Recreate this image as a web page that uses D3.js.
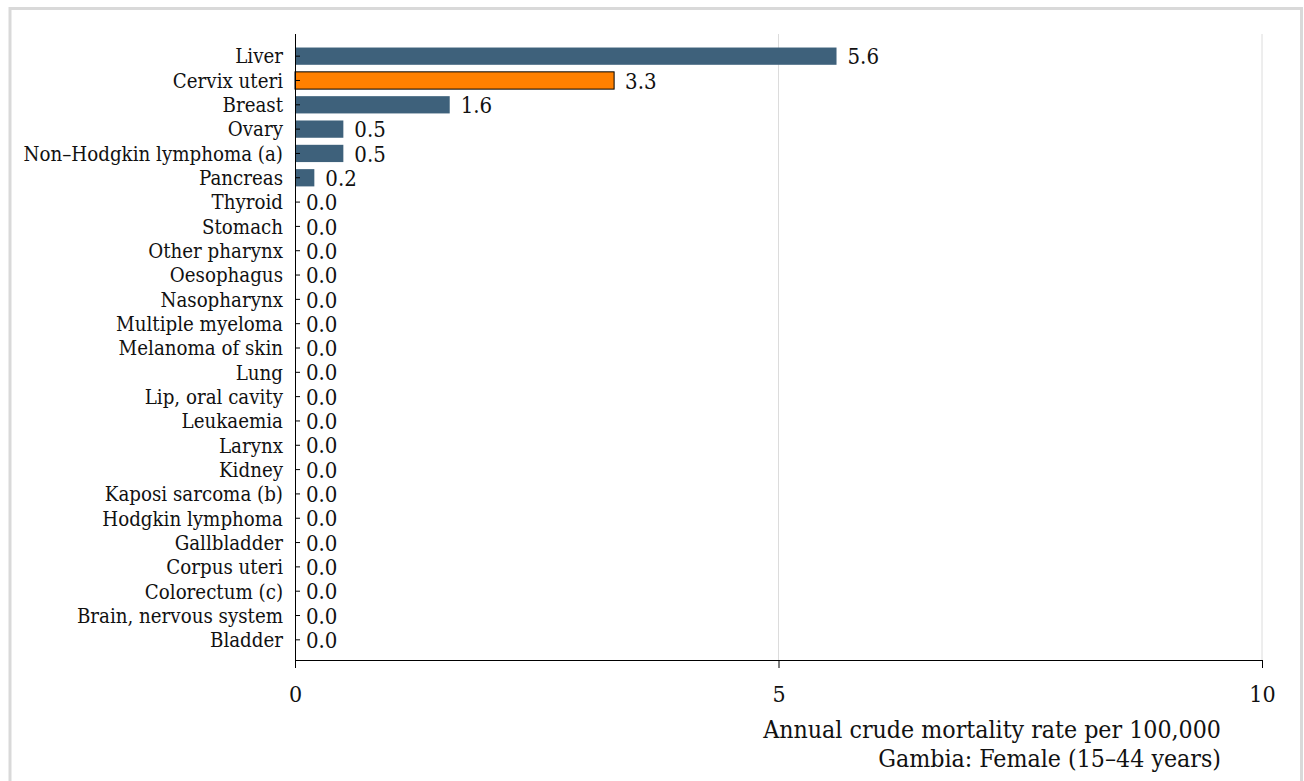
<!DOCTYPE html>
<html><head><meta charset="utf-8">
<script src="https://cdn.jsdelivr.net/npm/d3@7"></script>
<style>html,body{margin:0;padding:0;background:#fff;}svg{display:block;}
text{font-family:"DejaVu Serif Condensed","DejaVu Serif",serif;font-stretch:condensed;}</style>
</head><body>
<svg id="chart" width="1304" height="781"></svg>
<script>
const categories = ["Liver","Cervix uteri","Breast","Ovary","Non\u2013Hodgkin lymphoma (a)","Pancreas","Thyroid","Stomach","Other pharynx","Oesophagus","Nasopharynx","Multiple myeloma","Melanoma of skin","Lung","Lip, oral cavity","Leukaemia","Larynx","Kidney","Kaposi sarcoma (b)","Hodgkin lymphoma","Gallbladder","Corpus uteri","Colorectum (c)","Brain, nervous system","Bladder"];
const values = [5.6,3.3,1.6,0.5,0.5,0.2,0,0,0,0,0,0,0,0,0,0,0,0,0,0,0,0,0,0,0];
const highlight = ["Cervix uteri"];
const xTicks = [0,5,10];
const axisTitle = ["Annual crude mortality rate per 100,000","Gambia: Female (15\u201344 years)"];

const svg = d3.select("#chart");
const x = d3.scaleLinear().domain([0,10]).range([295,1262]);
const y = d3.scaleBand().domain(categories).range([44,652]).paddingInner(0.29).paddingOuter(0.145);

// frame
svg.append("rect").attr("x",10).attr("y",8.5).attr("width",1291.5).attr("height",800)
  .attr("fill","none").attr("stroke","#d9d9d9").attr("stroke-width",3);

// gridlines
svg.append("g").selectAll("line").data(xTicks.filter(d=>d>0)).join("line")
  .attr("x1",d=>x(d)).attr("x2",d=>x(d)).attr("y1",34).attr("y2",660)
  .attr("stroke","#dcdcdc").attr("stroke-width",1);

// bars
svg.append("g").selectAll("rect").data(categories).join("rect")
  .attr("x",x(0)).attr("y",d=>y(d)).attr("height",y.bandwidth())
  .attr("width",(d,i)=>x(values[i])-x(0))
  .attr("fill",d=>highlight.includes(d)?"#ff8000":"#3e617b")
  .attr("stroke",d=>highlight.includes(d)?"#000":"none")
  .attr("stroke-width",1);

// y axis ticks
const yAxis = svg.append("g").attr("transform",`translate(${x(0)},0)`)
  .call(d3.axisRight(y).tickSize(5).tickFormat(""));
yAxis.select(".domain").remove();
yAxis.selectAll("line").attr("stroke","#000");
svg.append("line").attr("x1",x(0)+0.5).attr("x2",x(0)+0.5).attr("y1",34).attr("y2",660).attr("stroke","#000");

// category labels
svg.append("g").selectAll("text").data(categories).join("text")
  .attr("x",283).attr("y",d=>y(d)+y.bandwidth()/2).attr("dy","0.36em")
  .attr("text-anchor","end").attr("font-size",20.3)
  .attr("fill","#111").text(d=>d);

// value labels
svg.append("g").selectAll("text").data(categories).join("text")
  .attr("x",(d,i)=>x(values[i])+11).attr("y",d=>y(d)+y.bandwidth()/2).attr("dy","0.37em")
  .attr("font-size",22)
  .attr("fill","#111").text((d,i)=>values[i].toFixed(1));

// x axis
const xAxis = svg.append("g").attr("transform","translate(0,660)")
  .call(d3.axisBottom(x).tickValues(xTicks).tickSize(8).tickFormat(d3.format("d")));
xAxis.select(".domain").attr("d",`M${x(0)},0.5H${x(10)}`).attr("stroke","#000");
xAxis.selectAll("line").attr("stroke","#000");
xAxis.selectAll("text").attr("y",42).attr("dy",0).attr("font-size",23).attr("fill","#111");

// axis title
svg.append("g").selectAll("text").data(axisTitle).join("text")
  .attr("x",1221).attr("y",(d,i)=>738+i*29).attr("text-anchor","end")
  .attr("font-size",24.7).attr("fill","#111").text(d=>d);
</script>
</body></html>
